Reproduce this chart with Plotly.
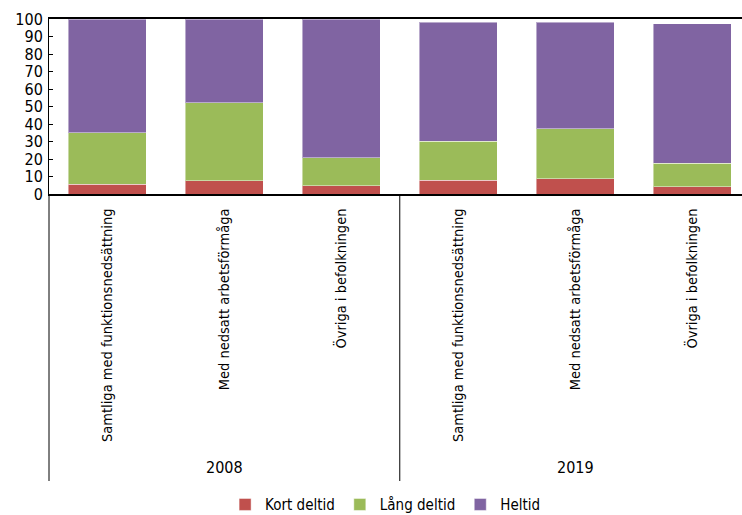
import plotly.graph_objects as go

groups = ["2008", "2008", "2008", "2019", "2019", "2019"]
categories = ["Samtliga med funktionsnedsättning", "Med nedsatt arbetsförmåga", "Övriga i befolkningen",
              "Samtliga med funktionsnedsättning", "Med nedsatt arbetsförmåga", "Övriga i befolkningen"]
kort_deltid = [5.5, 7.6, 4.8, 7.8, 8.8, 4.2]
lang_deltid = [29.4, 44.5, 15.8, 22.4, 28.4, 13.4]
heltid = [65.1, 47.9, 79.4, 67.9, 60.9, 79.7]
y_ticks = list(range(0, 101, 10))
year_labels = ["2008", "2019"]

FONT = "Liberation Sans Narrow, Arial Narrow, DejaVu Sans Condensed, sans-serif"

keys = [f"{g}|{c}" for g, c in zip(groups, categories)]

fig = go.Figure()
series = [("Kort deltid", kort_deltid, "#C0504D"),
          ("Lång deltid", lang_deltid, "#9BBB59"),
          ("Heltid", heltid, "#8064A2")]
for name, vals, col in series:
    fig.add_trace(go.Bar(x=keys, y=vals, name=name,
                         marker=dict(color=col, line=dict(color="rgba(255,255,255,0.45)", width=1))))

fig.update_layout(
    width=742, height=515,
    margin=dict(l=49, r=0, t=19, b=321, autoexpand=False),
    barmode="stack", bargap=0.333,
    plot_bgcolor="white", paper_bgcolor="white",
    font=dict(family=FONT, color="black", size=16),
    legend=dict(orientation="h", x=0.485, xanchor="center", yref="container", y=0.02, yanchor="middle",
                font=dict(size=15, family=FONT), traceorder="normal", itemwidth=30),
    showlegend=True,
)
fig.update_xaxes(
    type="category", tickvals=keys, ticktext=categories, tickangle=-90,
    tickfont=dict(size=14.5, family=FONT), ticks="", ticklabelstandoff=7,
    showline=True, linecolor="black", linewidth=1.5, mirror=True,
    range=[-0.5, 5.427], showgrid=False, automargin=False,
)
fig.update_yaxes(
    range=[0, 100], tickvals=y_ticks, ticks="inside", ticklen=4, tickcolor="black",
    showline=True, linecolor="black", linewidth=1, showgrid=False,
    tickfont=dict(size=16, family=FONT), zeroline=False, automargin=False,
    ticklabelstandoff=2,
)

# axis extensions and group separator
fig.add_shape(type="line", xref="paper", yref="paper", x0=0, x1=0, y0=0, y1=-1.64,
              line=dict(color="black", width=1))
fig.add_shape(type="line", xref="x", yref="paper", x0=2.5, x1=2.5, y0=0, y1=-1.64,
              line=dict(color="black", width=1))

for i, yl in enumerate(year_labels):
    fig.add_annotation(x=keys[i * 3 + 1], y=-1.56, xref="x", yref="paper", text=yl,
                       showarrow=False, font=dict(size=16, family=FONT), yanchor="middle")

fig.write_html("out.html", config={"displayModeBar": False},
               post_script="document.body.style.margin='0';document.body.style.padding='0';")
